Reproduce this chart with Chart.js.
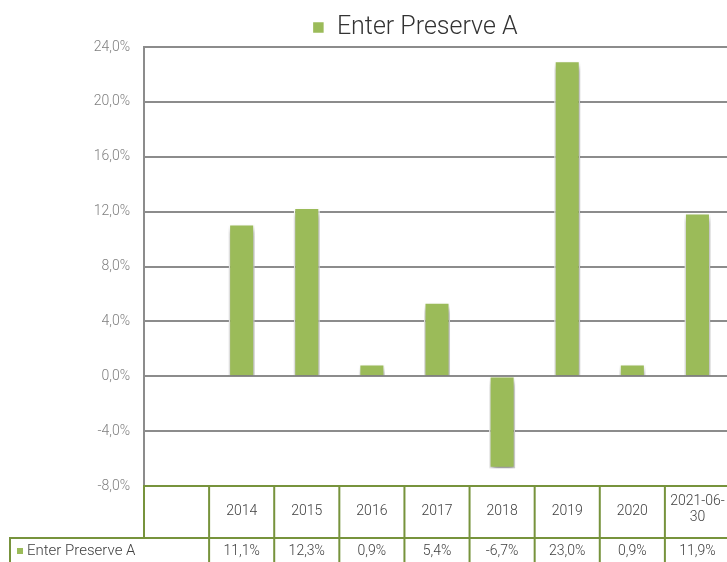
<!DOCTYPE html>
<html>
<head>
<meta charset="utf-8">
<script src="https://cdn.jsdelivr.net/npm/chart.js@4"></script>
<style>
  html, body { margin: 0; padding: 0; background: #fff; overflow: hidden; }
  #wrap { width: 830px; height: 562px; }
</style>
</head>
<body>
<div id="wrap"><canvas id="returnsChart" width="830" height="562"></canvas></div>
<script>
// categories - first column is the empty one under the legend key column
const categories = ['', '2014', '2015', '2016', '2017', '2018', '2019', '2020', '2021-06-30'];
const seriesName = 'Enter Preserve A';
const returns = [null, 11.1, 12.3, 0.9, 5.4, -6.7, 23.0, 0.9, 11.9];
const yMin = -8, yMax = 24, yStep = 4;

const green = '#9BBB59';
const tableLine = '#77933C';
const textDark = '#404040';

function pct(v) {
  return v.toFixed(1).replace('.', ',') + '%';
}

// little shadow under the bars, like the office chart
const barShadow = {
  id: 'barShadow',
  beforeDatasetsDraw(chart) {
    const ctx = chart.ctx;
    ctx.save();
    ctx.shadowColor = 'rgba(0,0,0,0.4)';
    ctx.shadowBlur = 6;
    ctx.shadowOffsetX = 1;
    ctx.shadowOffsetY = 5;
  },
  afterDatasetsDraw(chart) {
    chart.ctx.restore();
  }
};

// data table under the plot
const dataTable = {
  id: 'dataTable',
  afterDraw(chart) {
    const ctx = chart.ctx;
    const x = chart.scales.x;
    const area = chart.chartArea;
    const top = area.bottom;
    const rowSep = top + 52;
    const bottom = top + 110;
    const keyLeft = 10;

    const centers = categories.map((c, i) => x.getPixelForValue(i));
    const bounds = [area.left];
    for (let i = 1; i < centers.length; i++) bounds.push((centers[i - 1] + centers[i]) / 2);
    bounds.push(centers[centers.length - 1] + (centers[centers.length - 1] - bounds[bounds.length - 1]));

    ctx.save();
    ctx.strokeStyle = tableLine;
    ctx.lineWidth = 2;
    ctx.beginPath();
    ctx.moveTo(area.left - 1, top); ctx.lineTo(chart.width, top);
    ctx.moveTo(keyLeft - 1, rowSep); ctx.lineTo(chart.width, rowSep);
    ctx.moveTo(area.left, top); ctx.lineTo(area.left, rowSep);
    ctx.moveTo(keyLeft, rowSep); ctx.lineTo(keyLeft, bottom);
    for (let i = 1; i < bounds.length; i++) {
      ctx.moveTo(bounds[i], top); ctx.lineTo(bounds[i], bottom);
    }
    ctx.stroke();

    ctx.fillStyle = textDark;
    ctx.font = '300 14px Roboto';
    ctx.textAlign = 'center';
    ctx.textBaseline = 'middle';
    for (let i = 1; i < categories.length; i++) {
      const w = bounds[i + 1] - bounds[i];
      let label = categories[i];
      if (ctx.measureText(label).width > w - 4 && label.lastIndexOf('-') > 0) {
        const k = label.lastIndexOf('-') + 1;
        ctx.fillText(label.slice(0, k), centers[i], top + 15);
        ctx.fillText(label.slice(k), centers[i], top + 31);
      } else {
        ctx.fillText(label, centers[i], top + 25);
      }
      if (returns[i] !== null) ctx.fillText(pct(returns[i]), centers[i], rowSep + 13);
    }

    // legend key in the table
    ctx.fillStyle = green;
    ctx.fillRect(17, rowSep + 10, 6, 6);
    ctx.fillStyle = textDark;
    ctx.textAlign = 'left';
    ctx.font = '300 15px Roboto';
    ctx.fillText(seriesName, 27, rowSep + 13);
    ctx.restore();
  }
};

// legend: fixed height, centred over the whole canvas width
const legendBox = {
  id: 'legendBox',
  beforeInit(chart) {
    const fit = chart.legend.fit;
    chart.legend.fit = function () {
      fit.call(this);
      this.height = 47;
    };
  },
  afterLayout(chart) {
    chart.legend.left = 0;
    chart.legend.right = chart.width;
  }
};

const ctx = document.getElementById('returnsChart').getContext('2d');
const chart = new Chart(ctx, {
  type: 'bar',
  data: {
    labels: categories,
    datasets: [{
      label: seriesName,
      data: returns,
      backgroundColor: green,
      borderColor: '#ffffff',
      borderWidth: 1.5,
      categoryPercentage: 1,
      barPercentage: 0.4
    }]
  },
  options: {
    responsive: false,
    animation: false,
    layout: { padding: { left: 0, right: 100, top: 0, bottom: 76 } },
    plugins: {
      legend: {
        position: 'top',
        labels: {
          boxWidth: 12,
          boxHeight: 12,
          color: '#333333',
          font: { family: 'Roboto', size: 25, weight: '300' },
          padding: 15
        }
      },
      tooltip: { enabled: false }
    },
    scales: {
      x: {
        ticks: { display: false },
        grid: { display: false, drawTicks: false },
        border: { display: false }
      },
      y: {
        min: yMin,
        max: yMax,
        ticks: {
          stepSize: yStep,
          padding: 14,
          color: '#7f7f7f',
          font: { family: 'Roboto', size: 14, weight: '300' },
          callback: v => pct(v)
        },
        grid: { color: '#8c8c8c', lineWidth: 2, drawTicks: false },
        border: { display: true, color: '#8c8c8c', width: 2 },
        afterFit(axis) { axis.width = 144; }
      }
    }
  },
  plugins: [barShadow, dataTable, legendBox]
});
</script>
</body>
</html>
